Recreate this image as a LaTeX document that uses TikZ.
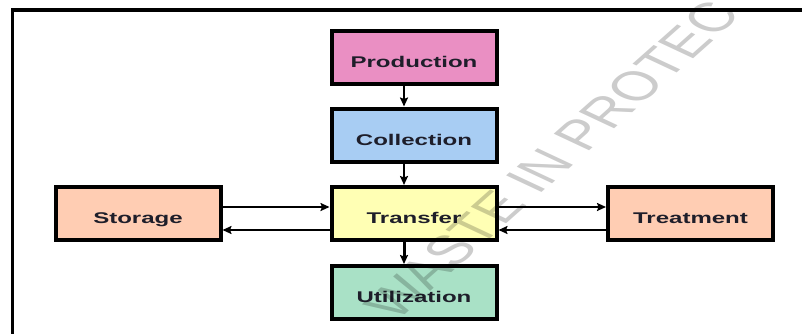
\documentclass[tikz,border=0pt]{standalone}
\usepackage{fontspec}
\setmainfont{Liberation Sans}
\newfontfamily\boxfont[FakeStretch=1.55]{Liberation Sans}
\usetikzlibrary{arrows.meta}
\definecolor{prodpink}{HTML}{EA8FC3}
\definecolor{collblue}{HTML}{A8CDF3}
\definecolor{transyellow}{HTML}{FFFFB4}
\definecolor{peach}{HTML}{FFCDB3}
\definecolor{mint}{HTML}{A9E1C6}
\definecolor{textdark}{HTML}{1E1E2A}
\begin{document}
\begin{tikzpicture}[x=1pt,y=1pt,
  stage/.style={draw=black, line width=4pt, minimum width=165pt, minimum height=53pt,
    inner sep=0pt, text height=20pt, text depth=0pt,
    font=\boxfont\bfseries\fontsize{15.5}{16}\selectfont, text=textdark},
  flow/.style={line width=2pt, -{Stealth[length=9pt,width=8pt,inset=1.5pt]}},
  wmark/.style={text=black, opacity=0.2, font=\fontsize{41}{41}\selectfont, inner sep=0pt}]
\useasboundingbox (0,0) rectangle (802,333);
\fill[white] (0,0) rectangle (802,333);
\draw[line width=3pt] (804,323) -- (12.5,323) -- (12.5,-3);

\node[stage, fill=prodpink]    (prod)  at (414,276)   {Production};
\node[stage, fill=collblue]    (coll)  at (414,198)   {Collection};
\node[stage, fill=transyellow] (trans) at (414,119.5) {Transfer};
\node[stage, fill=mint]        (util)  at (414,40.5)  {Utilization};
\node[stage, fill=peach]       (stor)  at (138,119.5) {Storage};
\node[stage, fill=peach]       (treat) at (690.5,119.5) {Treatment};

\draw[flow] ([xshift=-10pt]prod.south) -- ([xshift=-10pt]coll.north);
\draw[flow] ([xshift=-10pt]coll.south) -- ([xshift=-10pt]trans.north);
\draw[flow, line width=3pt] ([xshift=-10pt]trans.south) -- ([xshift=-10pt]util.north);

\draw[flow] ([yshift=6.5pt]stor.east) -- ([yshift=6.5pt]trans.west);
\draw[flow] ([yshift=-16.5pt]trans.west) -- ([yshift=-16.5pt]stor.east);
\draw[flow] ([yshift=6.5pt]trans.east) -- ([yshift=6.5pt]treat.west);
\draw[flow] ([yshift=-16.5pt]treat.west) -- ([yshift=-16.5pt]trans.east);

\begin{scope}
  \clip (0,0) rectangle (802,333);
  \begin{scope}[shift={(552,173)}, xscale=1.55]
    \node[wmark, rotate=54, transform shape] (wm) at (0,0) {WASTE IN PROTEC};
  \end{scope}
\end{scope}
\end{tikzpicture}
\end{document}
